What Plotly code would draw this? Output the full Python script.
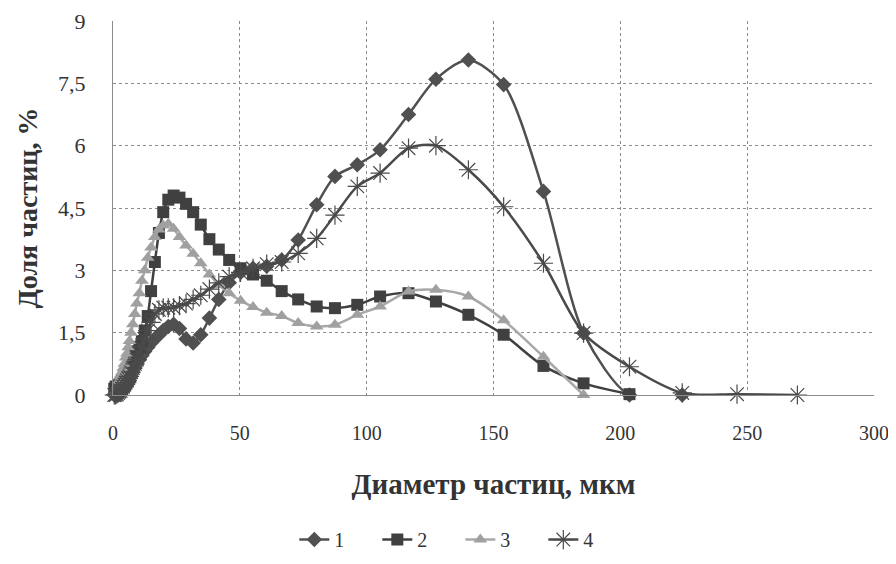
import plotly.graph_objects as go

# Particle diameter, µm
diam = [0.5, 1, 1.5, 2, 2.5, 3, 3.5, 4, 4.5, 5, 5.5, 6, 6.5, 7.1, 7.8, 8.6, 9.4,
        10.4, 11.4, 12.5, 13.7, 15.0, 16.5, 18.1, 19.8, 21.8, 23.9, 26.2, 28.8,
        31.6, 34.6, 38.0, 41.7, 45.8, 50.3, 55.2, 60.6, 66.5, 73.0, 80.3, 87.5,
        96.3, 105.3, 116.5, 127.3, 140.1, 154.0, 169.7, 185.5, 203.6, 224.4,
        246.0, 269.8]

s1 = [0.0, 0.0, 0.0, 0.0, 0.02, 0.05, 0.08, 0.1, 0.15, 0.2, 0.25, 0.3, 0.35,
      0.45, 0.55, 0.65, 0.75, 0.85, 0.95, 1.05, 1.15, 1.25, 1.35, 1.45, 1.55,
      1.65, 1.7, 1.6, 1.35, 1.25, 1.45, 1.85, 2.3, 2.7, 2.95, 3.05, 3.1, 3.25,
      3.73, 4.58, 5.26, 5.54, 5.9, 6.75, 7.6, 8.06, 7.47, 4.9, 1.49, 0.0, 0.0]

s2 = [0.15, 0.2, 0.2, 0.2, 0.25, 0.3, 0.35, 0.4, 0.45, 0.5, 0.55, 0.6, 0.65,
      0.75, 0.85, 0.95, 1.05, 1.15, 1.3, 1.55, 1.9, 2.5, 3.2, 3.9, 4.4, 4.7,
      4.8, 4.75, 4.6, 4.4, 4.1, 3.75, 3.5, 3.25, 3.05, 2.9, 2.75, 2.5, 2.3,
      2.13, 2.09, 2.17, 2.37, 2.45, 2.25, 1.93, 1.45, 0.7, 0.28, 0.02]

s3 = [0.05, 0.1, 0.15, 0.25, 0.35, 0.45, 0.55, 0.65, 0.75, 0.9, 1.0, 1.15, 1.3,
      1.5, 1.7, 1.95, 2.2, 2.45, 2.75, 3.0, 3.3, 3.55, 3.8, 3.98, 4.08, 4.12,
      4.0, 3.8, 3.6, 3.4, 3.17, 2.9, 2.65, 2.45, 2.27, 2.12, 1.98, 1.9, 1.73,
      1.65, 1.69, 1.93, 2.13, 2.49, 2.53, 2.37, 1.8, 0.92, 0.0]

s4 = [0.0, 0.0, 0.02, 0.05, 0.08, 0.1, 0.15, 0.2, 0.25, 0.3, 0.35, 0.4, 0.45,
      0.55, 0.65, 0.75, 0.85, 1.0, 1.15, 1.35, 1.55, 1.75, 1.95, 2.05, 2.1,
      2.1, 2.1, 2.15, 2.2, 2.3, 2.4, 2.55, 2.7, 2.85, 2.95, 3.05, 3.15, 3.2,
      3.41, 3.77, 4.33, 5.02, 5.34, 5.94, 6.0, 5.42, 4.53, 3.17, 1.49, 0.68,
      0.05, 0.02, 0.0]

x_ticks = [0, 50, 100, 150, 200, 250, 300]
y_ticks = [0, 1.5, 3, 4.5, 6, 7.5, 9]
y_tick_text = ["0", "1,5", "3", "4,5", "6", "7,5", "9"]

FONT = "'Liberation Serif', 'Times New Roman', Times, serif"

fig = go.Figure()
fig.add_trace(go.Scatter(
    x=diam[:len(s1)], y=s1, name="1", mode="lines+markers",
    line=dict(color="#505050", width=2.5, shape="spline", smoothing=0.8),
    marker=dict(symbol="diamond", size=12, color="#505050"),
    cliponaxis=False))
fig.add_trace(go.Scatter(
    x=diam[:len(s2)], y=s2, name="2", mode="lines+markers",
    line=dict(color="#404040", width=2.5, shape="spline", smoothing=0.8),
    marker=dict(symbol="square", size=12, color="#404040"),
    cliponaxis=False))
fig.add_trace(go.Scatter(
    x=diam[:len(s3)], y=s3, name="3", mode="lines+markers",
    line=dict(color="#a8a8a8", width=2.5, shape="spline", smoothing=0.8),
    marker=dict(symbol="triangle-up", size=12, color="#a0a0a0"),
    cliponaxis=False))
fig.add_trace(go.Scatter(
    x=diam[:len(s4)], y=s4, name="4", mode="lines+markers",
    line=dict(color="#4a4a4a", width=2.5, shape="spline", smoothing=0.8),
    marker=dict(symbol="asterisk-open", size=16,
                line=dict(color="#7a7a7a", width=1.2)),
    cliponaxis=False))

fig.update_layout(
    width=880, height=548,
    margin=dict(l=105, r=14, t=13, b=161, autoexpand=False),
    paper_bgcolor="white", plot_bgcolor="white",
    font=dict(family=FONT, color="#333333", size=22),
    showlegend=True,
    legend=dict(orientation="h", xref="container", yref="container",
                x=0.514, xanchor="center", y=0.03, yanchor="middle",
                font=dict(family=FONT, size=20, color="#333333"),
                itemwidth=30, entrywidth=38, entrywidthmode="pixels",
                tracegroupgap=0),
    xaxis=dict(range=[0, 300], tickvals=x_ticks,
               ticks="outside", ticklen=20, tickcolor="rgba(0,0,0,0)",
               ticklabeloverflow="allow",
               showgrid=True, gridcolor="#8c8c8c", griddash="dot", gridwidth=1,
               showline=True, linecolor="#8c8c8c", linewidth=1,
               zeroline=False,
               tickfont=dict(family=FONT, size=20, color="#333333"),
               title=dict(text="<b>Диаметр частиц, мкм</b>", standoff=30,
                          font=dict(family=FONT, size=29, color="#333333"))),
    yaxis=dict(range=[0, 9], tickvals=y_ticks, ticktext=y_tick_text,
               ticks="outside", ticklen=22, tickcolor="rgba(0,0,0,0)",
               showgrid=True, gridcolor="#8c8c8c", griddash="dot", gridwidth=1,
               showline=True, linecolor="#8c8c8c", linewidth=1,
               zeroline=False,
               tickfont=dict(family=FONT, size=22, color="#333333"),
               title=dict(text="<b>Доля частиц, %</b>", standoff=12,
                          font=dict(family=FONT, size=28, color="#333333"))),
)

fig.write_html("out.html")
